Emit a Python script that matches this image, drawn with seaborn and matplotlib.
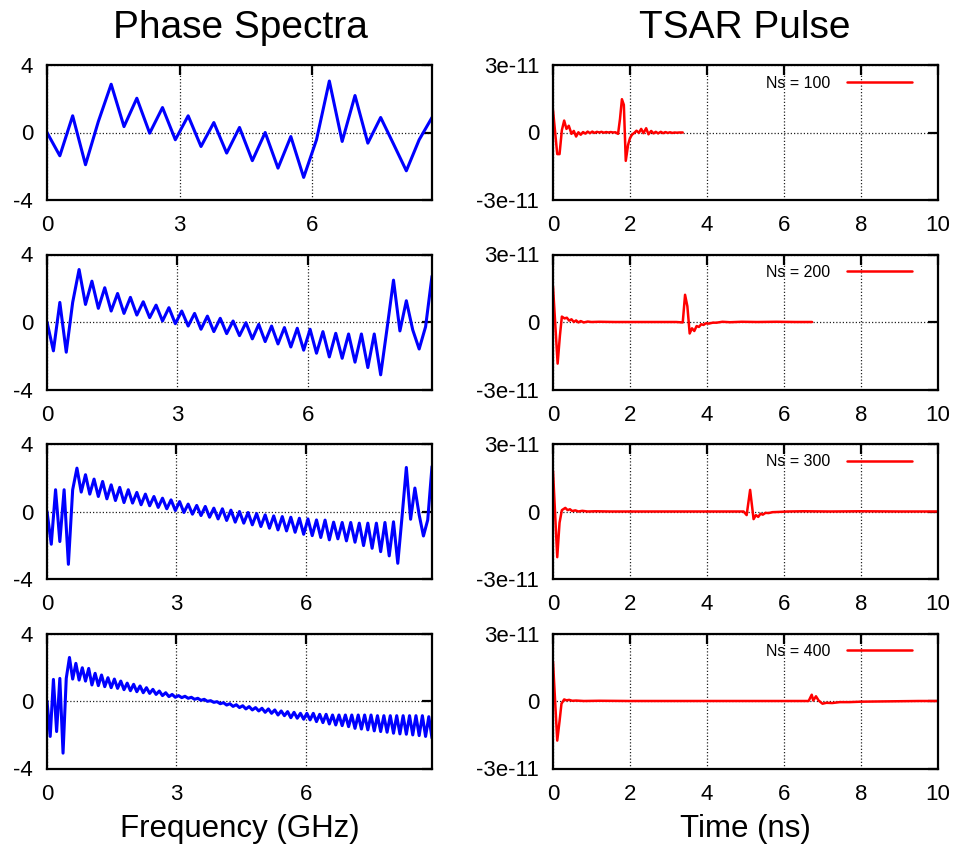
import numpy as np
import pandas as pd
import seaborn as sns
import matplotlib.pyplot as plt

sns.set_style("white")
plt.rcParams['font.family'] = ['Liberation Sans', 'DejaVu Sans']
plt.rcParams['text.color'] = 'black'

# ---- phase spectra (rad), evenly spaced frequency bins up to f_max (GHz) ----
f_max = [8.71, 8.86, 8.93, 8.92]

phase_100 = [0, -1.38, 0.99, -1.91, 0.65, 2.86, 0.35, 2.03, -0.04, 1.48, -0.43,
             0.99, -0.83, 0.59, -1.22, 0.30, -1.67, 0.0, -2.11, -0.24, -2.66,
             -0.43, 3.05, -0.53, 2.19, -0.63, 0.89, -0.68, -2.27, -0.43, 0.89]

phase_200 = [0, -1.71, 1.16, -1.79, 1.16, 3.11, 1.04, 2.42, 0.81, 2.03, 0.65,
             1.69, 0.51, 1.46, 0.41, 1.20, 0.26, 1.00, 0.06, 0.85, -0.10,
             0.65, -0.24, 0.51, -0.43, 0.35, -0.57, 0.22, -0.69, 0.06, -0.81,
             -0.04, -1.00, -0.14, -1.16, -0.24, -1.30, -0.33, -1.48, -0.37, -1.67,
             -0.43, -1.85, -0.57, -2.07, -0.67, -2.15, -0.71, -2.38, -0.71, -2.70,
             -0.71, -3.13, -0.37, 2.48, -0.53, 1.26, -0.47, -1.60, -0.28, 2.72]

phase_300 = [0, -1.94, 1.29, -1.78, 1.29, -3.13, 1.29, 2.57, 1.15, 2.18, 1.03,
             1.92, 0.89, 1.78, 0.75, 1.58, 0.65, 1.43, 0.53, 1.29, 0.50,
             1.13, 0.40, 1.03, 0.34, 0.89, 0.24, 0.79, 0.16, 0.69, 0.06,
             0.59, -0.06, 0.44, -0.16, 0.36, -0.24, 0.30, -0.34, 0.20, -0.44,
             0.16, -0.53, 0.08, -0.63, 0.0, -0.69, -0.06, -0.79, -0.12, -0.89,
             -0.20, -0.99, -0.26, -1.09, -0.30, -1.15, -0.34, -1.23, -0.40, -1.35,
             -0.44, -1.43, -0.50, -1.54, -0.51, -1.68, -0.63, -1.62, -0.65, -1.74,
             -0.65, -1.82, -0.69, -2.02, -0.69, -2.18, -0.69, -2.38, -0.65, -2.63,
             -0.61, -3.07, -0.30, 2.61, -0.46, 1.39, -0.20, -1.45, -0.50, 2.67]

phase_400 = [0, -2.10, 1.28, -1.81, 1.34, -3.09, 1.34, 2.58, 1.30, 2.23, 1.24,
             1.97, 1.18, 1.93, 0.95, 1.64, 0.91, 1.54, 0.85, 1.38, 0.79,
             1.30, 0.75, 1.18, 0.67, 1.06, 0.61, 0.99, 0.55, 0.89, 0.49,
             0.79, 0.45, 0.69, 0.39, 0.59, 0.32, 0.49, 0.26, 0.39, 0.22,
             0.32, 0.20, 0.28, 0.16, 0.22, 0.10, 0.16, 0.04, 0.10, -0.02,
             0.02, -0.08, -0.04, -0.16, -0.10, -0.24, -0.16, -0.32, -0.22, -0.39,
             -0.28, -0.47, -0.33, -0.53, -0.39, -0.59, -0.43, -0.67, -0.47, -0.73,
             -0.53, -0.83, -0.59, -0.87, -0.63, -0.99, -0.67, -1.02, -0.73, -1.08,
             -0.73, -1.12, -0.73, -1.22, -0.79, -1.28, -0.79, -1.36, -0.83, -1.42,
             -0.83, -1.46, -0.83, -1.52, -0.83, -1.62, -0.83, -1.66, -0.83, -1.71,
             -0.83, -1.77, -0.87, -1.81, -0.87, -1.85, -0.87, -1.91, -0.87, -1.95,
             -0.87, -1.97, -0.87, -2.01, -0.87, -2.05, -0.87, -2.10, -0.93, -2.20]

# ---- TSAR pulses: time (ns) and amplitude (units of 1e-11) ----
t_100 = [0, 0.11, 0.17, 0.23, 0.29, 0.35, 0.41, 0.48, 0.54, 0.60, 0.66, 0.72,
         0.78, 0.84, 0.90, 0.96, 1.02, 1.08, 1.14, 1.20, 1.26, 1.32, 1.38, 1.44,
         1.50, 1.56, 1.62, 1.69, 1.74, 1.79, 1.84, 1.89, 1.95, 2.00, 2.05, 2.11,
         2.17, 2.23, 2.29, 2.35, 2.42, 2.48, 2.55, 2.61, 2.67, 2.73, 2.80, 2.86,
         2.92, 2.98, 3.04, 3.10, 3.16, 3.22, 3.28, 3.37]
v_100 = [1.00, -0.96, -0.96, 0.10, 0.53, 0.16, 0.30, -0.06, 0.07, -0.18, 0.01,
         -0.10, 0.02, -0.05, 0.04, -0.03, 0.04, -0.02, 0.03, 0.0, 0.03, -0.01,
         0.02, 0.0, 0.02, 0.0, 0.01, -0.06, 0.60, 1.48, 1.23, -1.26, -0.55, -0.25,
         -0.10, -0.02, 0.08, -0.02, 0.16, -0.03, 0.19, -0.08, 0.07, -0.04, 0.03,
         -0.04, 0.03, -0.03, 0.02, -0.02, 0.01, -0.02, 0.0, -0.01, 0.0, 0.0]

t_200 = [0, 0.12, 0.18, 0.23, 0.30, 0.36, 0.42, 0.48, 0.54, 0.60, 0.66, 0.72,
         0.80, 0.90, 1.00, 1.20, 1.60, 2.00, 2.60, 3.20, 3.37, 3.43, 3.49, 3.55,
         3.61, 3.67, 3.73, 3.79, 3.85, 3.91, 3.97, 4.05, 4.15, 4.25, 4.40, 4.60,
         4.90, 5.30, 5.80, 6.30, 6.73]
v_200 = [1.58, -1.85, -0.60, 0.24, 0.16, 0.19, 0.06, 0.12, 0.0, 0.07, -0.02,
         0.04, -0.02, 0.02, 0.0, 0.01, 0.0, 0.0, 0.0, 0.0, -0.02, 1.21, 0.70,
         -0.51, -0.28, -0.40, -0.18, -0.22, -0.10, -0.13, -0.06, -0.07, -0.03,
         -0.03, 0.01, -0.01, 0.01, 0.0, 0.01, 0.0, 0.0]

t_300 = [0, 0.11, 0.17, 0.23, 0.32, 0.38, 0.44, 0.50, 0.58, 0.66, 0.76, 0.90,
         1.10, 1.50, 2.50, 3.50, 4.50, 4.95, 5.03, 5.12, 5.21, 5.27, 5.33, 5.39,
         5.45, 5.52, 5.60, 5.70, 5.85, 6.10, 6.50, 7.20, 8.00, 9.00, 10.0]
v_300 = [1.81, -2.03, -0.50, 0.06, 0.16, 0.06, 0.10, 0.02, 0.05, 0.0, 0.03,
         0.0, 0.01, 0.0, 0.0, 0.0, 0.0, 0.0, -0.16, 0.96, -0.34, -0.16, -0.24,
         -0.10, -0.14, -0.06, -0.07, -0.03, -0.02, 0.0, 0.01, 0.0, 0.01, 0.0, 0.0]

t_400 = [0, 0.11, 0.17, 0.22, 0.29, 0.35, 0.42, 0.50, 0.60, 0.80, 1.20, 2.00,
         3.00, 4.00, 5.00, 6.00, 6.64, 6.72, 6.76, 6.83, 6.90, 7.00, 7.10, 7.25,
         7.45, 7.70, 8.00, 8.50, 9.00, 9.50, 10.0]
v_400 = [1.75, -1.76, -0.90, -0.12, 0.07, 0.03, 0.05, 0.01, 0.02, 0.0, 0.01,
         0.0, 0.0, 0.0, 0.0, 0.0, 0.0, 0.28, 0.02, 0.21, 0.02, -0.12, -0.08,
         -0.09, -0.05, -0.05, -0.03, -0.02, -0.01, 0.0, 0.0]

phases = [phase_100, phase_200, phase_300, phase_400]
pulses = [(t_100, v_100), (t_200, v_200), (t_300, v_300), (t_400, v_400)]
ns_labels = ['Ns = 100', 'Ns = 200', 'Ns = 300', 'Ns = 400']

fig = plt.figure(figsize=(9.58, 8.5), dpi=100)

W, H = 958, 850
row_tops = [65, 254.5, 444, 633.5]
ax_h = 135
left_x, right_x, ax_w = 47, 553, 385


def style_axes(ax):
    for s in ax.spines.values():
        s.set_linewidth(1.6)
        s.set_color('black')
    ax.tick_params(direction='in', length=7, width=1.6, top=True, right=True,
                   labelsize=16, colors='black')
    ax.tick_params(axis='y', pad=10)
    ax.tick_params(axis='x', pad=11)
    ax.grid(True, linestyle=(0, (1, 1.6)), color='#222222', linewidth=0.9)
    ax.set_xlabel('')
    ax.set_ylabel('')


for i in range(4):
    bottom = 1 - (row_tops[i] + ax_h) / H

    # phase spectrum
    axl = fig.add_axes([left_x / W, bottom, ax_w / W, ax_h / H])
    vals = phases[i]
    freq = np.linspace(0, f_max[i], len(vals))
    df = pd.DataFrame({'freq': freq, 'phase': vals})
    sns.lineplot(data=df, x='freq', y='phase', ax=axl, color='#0000ff',
                 linewidth=2.2, estimator=None, sort=False)
    axl.set_xlim(0, f_max[i])
    axl.set_ylim(-4, 4)
    axl.set_xticks([0, 3, 6], ['0', '3', '6'])
    axl.set_yticks([-4, 0, 4], ['-4', '0', '4'])
    style_axes(axl)

    # TSAR pulse
    axr = fig.add_axes([right_x / W, bottom, ax_w / W, ax_h / H])
    t, v = pulses[i]
    dp = pd.DataFrame({'time': t, 'amp': np.array(v) * 1e-11})
    sns.lineplot(data=dp, x='time', y='amp', ax=axr, color='#ff0000',
                 linewidth=1.8, estimator=None, sort=False, label=ns_labels[i])
    axr.set_xlim(0, 10)
    axr.set_ylim(-3e-11, 3e-11)
    axr.set_xticks([0, 2, 4, 6, 8, 10], ['0', '2', '4', '6', '8', '10'])
    axr.set_yticks([-3e-11, 0, 3e-11], ['-3e-11', '0', '3e-11'])
    style_axes(axr)
    axr.legend(loc='center right', bbox_to_anchor=(1 - 26 / ax_w, 1 - 18 / ax_h),
               frameon=False, markerfirst=False, handlelength=4.1, fontsize=11.5,
               borderaxespad=0, borderpad=0, handletextpad=1.0)

fig.text(240 / W, 1 - 28 / H, 'Phase Spectra', ha='center', va='center', fontsize=28)
fig.text(745 / W, 1 - 28 / H, 'TSAR Pulse', ha='center', va='center', fontsize=28)
fig.text(240 / W, 1 - 829 / H, 'Frequency (GHz)', ha='center', va='center', fontsize=22.5)
fig.text(745 / W, 1 - 829 / H, 'Time (ns)', ha='center', va='center', fontsize=22.5)

fig.savefig('out.png', dpi=100)
